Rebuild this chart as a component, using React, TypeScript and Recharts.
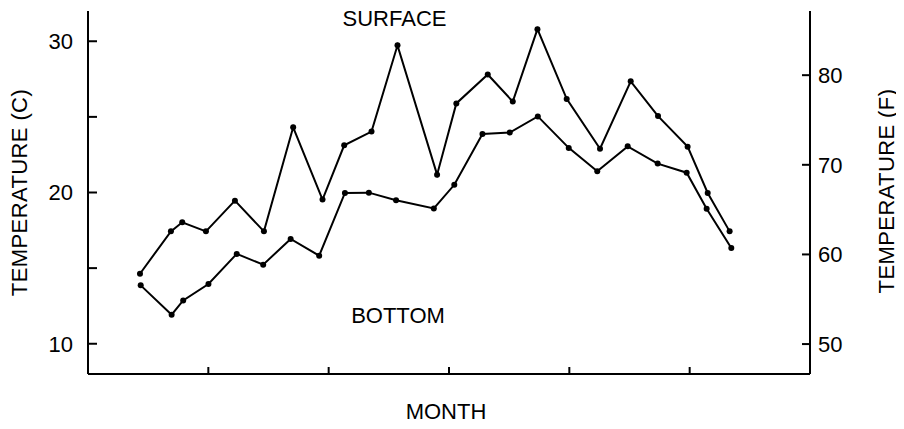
import React from "react";
import { LineChart, Line, XAxis, YAxis } from "recharts";

// Month position (0 = start of first month) and temperature (°C)
const surfaceMonths = [0.432, 0.689, 0.783, 0.98, 1.221, 1.462, 1.705, 1.949, 2.129, 2.356, 2.572, 2.901, 3.061, 3.322, 3.53, 3.735, 3.978, 4.255, 4.51, 4.737, 4.983, 5.15, 5.332];
const surfaceTemps = [14.63, 17.43, 18.03, 17.43, 19.46, 17.43, 24.31, 19.53, 23.12, 24.03, 29.73, 21.18, 25.89, 27.8, 26.01, 30.8, 26.19, 22.89, 27.35, 25.05, 23.03, 19.97, 17.43];

const bottomMonths = [0.438, 0.695, 0.791, 1.001, 1.236, 1.456, 1.684, 1.921, 2.135, 2.334, 2.56, 2.874, 3.044, 3.278, 3.505, 3.738, 3.995, 4.232, 4.485, 4.734, 4.975, 5.141, 5.346];
const bottomTemps = [13.86, 11.92, 12.86, 13.95, 15.94, 15.23, 16.93, 15.82, 19.97, 19.99, 19.49, 18.95, 20.51, 23.87, 23.96, 25.03, 22.95, 21.41, 23.05, 21.91, 21.31, 18.93, 16.33];

const monthTicks = [1, 2, 3, 4, 5];
const celsiusTicks = [10, 15, 20, 25, 30];
const celsiusLabelled = [10, 20, 30];
const fahrenheitTicks = [50, 60, 70, 80];

const surfaceData = surfaceMonths.map((m, i) => ({ month: m, temp: surfaceTemps[i] }));
const bottomData = bottomMonths.map((m, i) => ({ month: m, temp: bottomTemps[i] }));

const FONT = "'Liberation Sans', Arial, Helvetica, sans-serif";

const LeftTick = (props: any) => {
  const { x, y, payload } = props;
  if (!celsiusLabelled.includes(payload.value)) return <g />;
  return (
    <text x={x} y={y} dy="0.355em" textAnchor="end" fontSize={22} fontFamily={FONT} fill="#000">
      {payload.value}
    </text>
  );
};

const RightTick = (props: any) => {
  const { x, y, payload } = props;
  return (
    <text x={x} y={y} dy="0.355em" textAnchor="start" fontSize={22} fontFamily={FONT} fill="#000">
      {payload.value}
    </text>
  );
};

const EmptyTick = () => <g />;

export default function App() {
  return (
    <div style={{ margin: -8, width: 904, height: 429, background: "#fff" }}>
      <LineChart
        width={904}
        height={429}
        margin={{ top: 11, right: 0, bottom: 0, left: 0 }}
      >
        <XAxis
          dataKey="month"
          type="number"
          domain={[0, 6]}
          ticks={monthTicks}
          allowDataOverflow
          height={55}
          tickSize={-7}
          tick={EmptyTick}
          axisLine={{ stroke: "#000", strokeWidth: 2 }}
          tickLine={{ stroke: "#000", strokeWidth: 2 }}
        />
        <YAxis
          yAxisId="c"
          orientation="left"
          type="number"
          domain={[8, 32]}
          ticks={celsiusTicks}
          allowDataOverflow
          width={88}
          tickSize={-9}
          tickMargin={24}
          tick={LeftTick}
          axisLine={{ stroke: "#000", strokeWidth: 2 }}
          tickLine={{ stroke: "#000", strokeWidth: 2 }}
        />
        <YAxis
          yAxisId="f"
          orientation="right"
          type="number"
          domain={[46.66, 87.16]}
          ticks={fahrenheitTicks}
          allowDataOverflow
          width={94}
          tickSize={-8}
          tickMargin={16}
          tick={RightTick}
          axisLine={{ stroke: "#000", strokeWidth: 2 }}
          tickLine={{ stroke: "#000", strokeWidth: 2 }}
        />
        <Line
          yAxisId="c"
          data={surfaceData}
          dataKey="temp"
          type="linear"
          stroke="#000"
          strokeWidth={2}
          dot={{ r: 3, fill: "#000", stroke: "#000", strokeWidth: 0 }}
          isAnimationActive={false}
        />
        <Line
          yAxisId="c"
          data={bottomData}
          dataKey="temp"
          type="linear"
          stroke="#000"
          strokeWidth={2}
          dot={{ r: 3, fill: "#000", stroke: "#000", strokeWidth: 0 }}
          isAnimationActive={false}
        />
        <text x={394.5} y={26} textAnchor="middle" fontSize={22} fontFamily={FONT} fill="#000">
          SURFACE
        </text>
        <text x={398} y={323} textAnchor="middle" fontSize={22} fontFamily={FONT} fill="#000">
          BOTTOM
        </text>
        <text x={446} y={419} textAnchor="middle" fontSize={22} fontFamily={FONT} fill="#000">
          MONTH
        </text>
        <text
          x={19.5}
          y={192.5}
          textAnchor="middle"
          dominantBaseline="central"
          fontSize={22}
          fontFamily={FONT}
          letterSpacing={0.4}
          fill="#000"
          transform="rotate(-90 19.5 192.5)"
        >
          TEMPERATURE (C)
        </text>
        <text
          x={886}
          y={191}
          textAnchor="middle"
          dominantBaseline="central"
          fontSize={22}
          fontFamily={FONT}
          letterSpacing={0.4}
          fill="#000"
          transform="rotate(-90 886 191)"
        >
          TEMPERATURE (F)
        </text>
      </LineChart>
    </div>
  );
}
